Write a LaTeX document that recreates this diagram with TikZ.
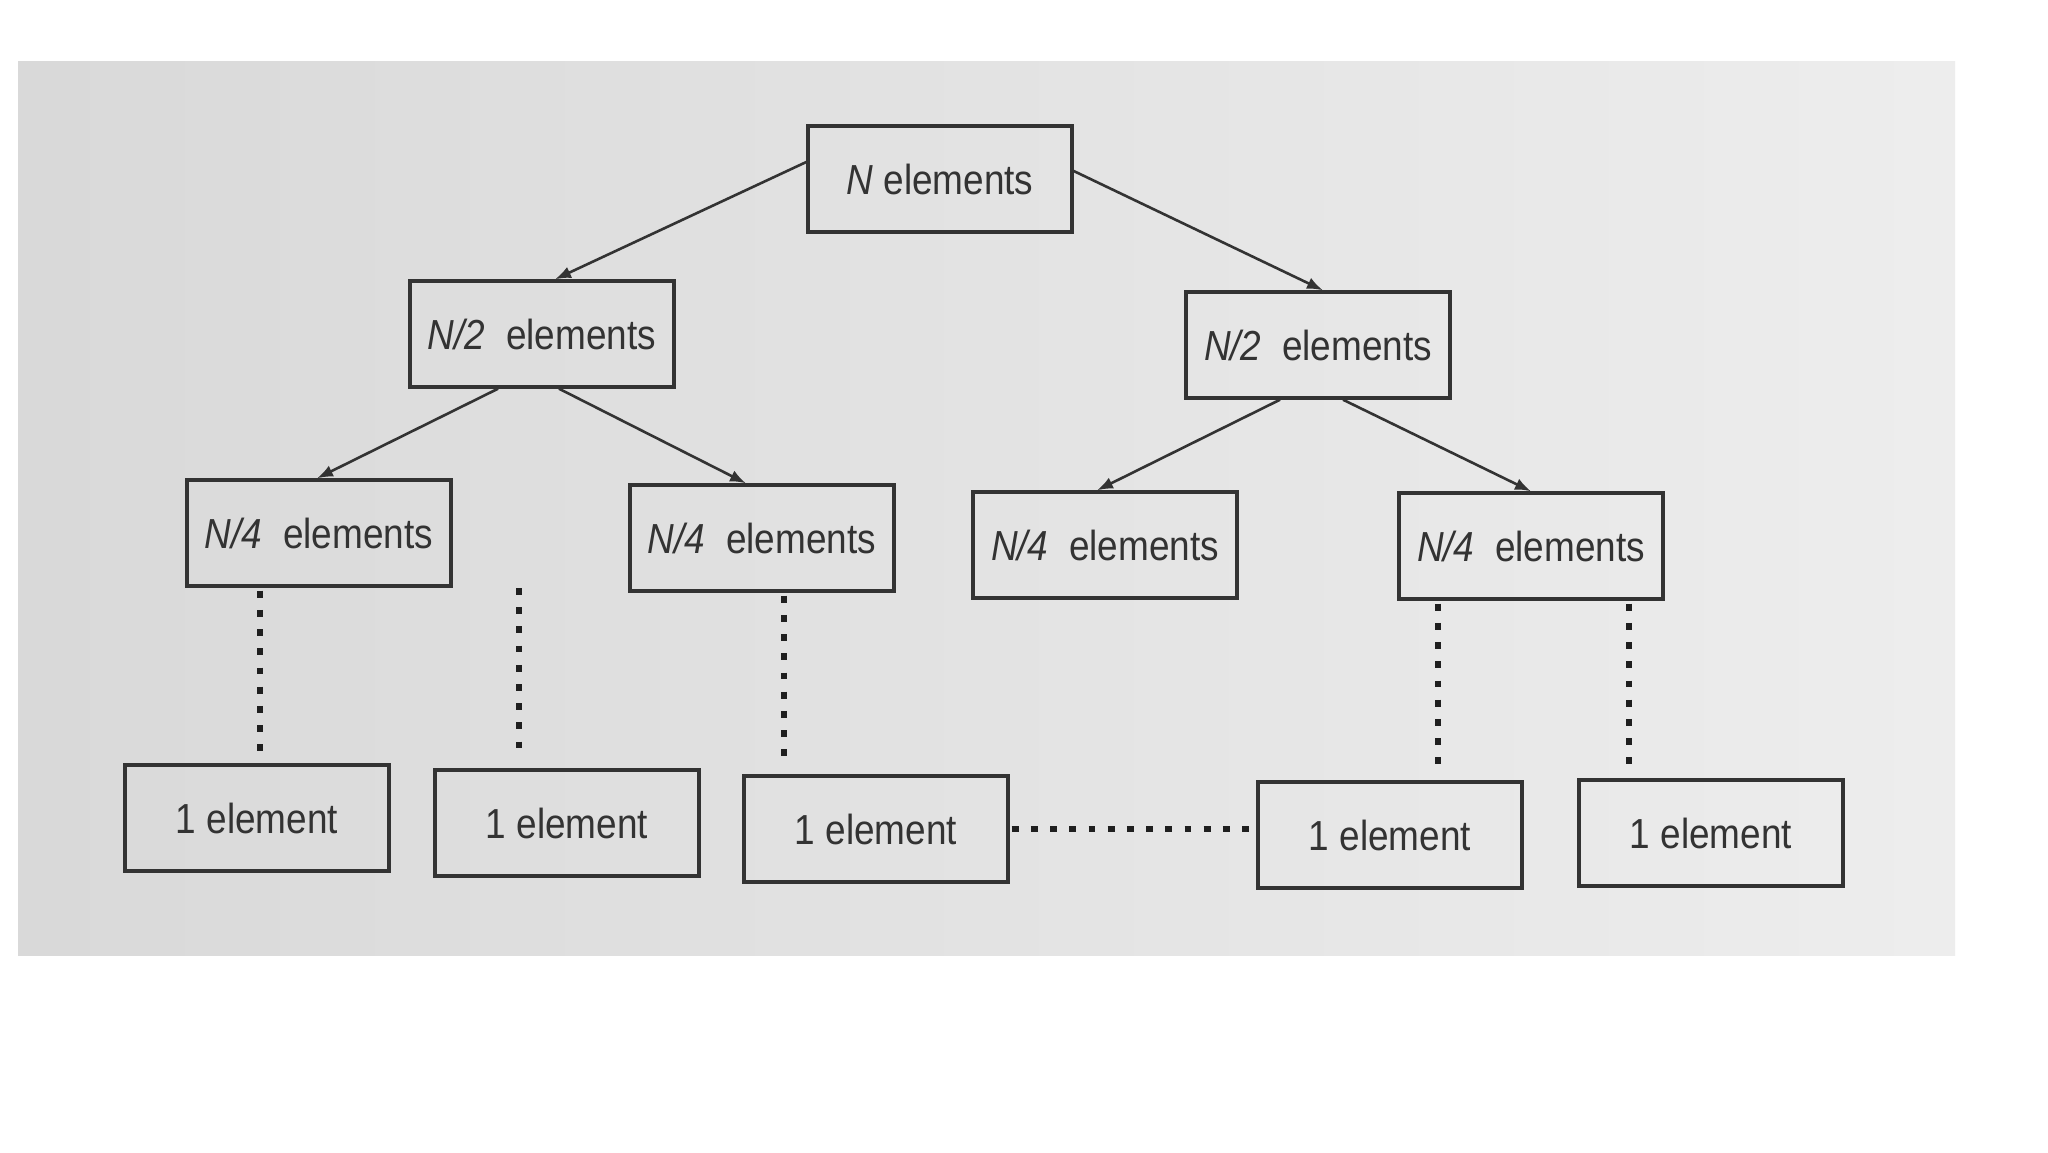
\documentclass[tikz,border=0pt]{standalone}
\usepackage{fontspec}
\newfontfamily\lab{Liberation Sans}[FakeStretch=0.88]
\usetikzlibrary{arrows.meta,calc}
\definecolor{ink}{HTML}{333333}
\tikzset{
  box/.style={draw=ink, line width=1.7pt, minimum width=132pt, minimum height=53pt,
    inner sep=0pt, font=\lab\fontsize{21pt}{24pt}\selectfont, text=ink},
  arr/.style={draw=ink, line width=1.3pt, -{Latex[length=8pt,width=6pt]}},
  dots/.style={draw=black!88, line width=3.4pt, dash pattern=on 3.4pt off 6.2pt}
}
\begin{document}
\begin{tikzpicture}[x=0.5pt,y=-0.5pt]
\useasboundingbox[fill=white] (0,0) rectangle (2048,1152);
\shade[left color=black!15, right color=black!7] (18,61) rectangle (1955,955);

\node[box] (top) at (940,179) {\textit{N} elements};
\node[box] (l2a) at (542,334) {\textit{N/2}\ \ elements};
\node[box] (l2b) at (1318,345) {\textit{N/2}\ \ elements};
\node[box] (l3a) at (319,533) {\textit{N/4}\ \ elements};
\node[box] (l3b) at (762,538) {\textit{N/4}\ \ elements};
\node[box] (l3c) at (1105,545) {\textit{N/4}\ \ elements};
\node[box] (l3d) at (1531,546) {\textit{N/4}\ \ elements};
\node[box] (l4a) at (257,818) {1 element};
\node[box] (l4b) at (567,823) {1 element};
\node[box] (l4c) at (876,829) {1 element};
\node[box] (l4d) at (1390,835) {1 element};
\node[box] (l4e) at (1711,833) {1 element};

\draw[arr] ($(top.west)+(0,-17)$) -- ($(l2a.north)+(13,0)$);
\draw[arr] ($(top.east)+(0,-8)$) -- ($(l2b.north)+(5,0)$);
\draw[arr] ($(l2a.south)+(-44,0)$) -- ($(l3a.north)+(-2,0)$);
\draw[arr] ($(l2a.south)+(17,0)$) -- ($(l3b.north)+(-16,0)$);
\draw[arr] ($(l2b.south)+(-38,0)$) -- ($(l3c.north)+(-8,0)$);
\draw[arr] ($(l2b.south)+(25,0)$) -- ($(l3d.north)+(0,0)$);

\coordinate (d2top) at (519,588);
\draw[dots] ($(l3a.south)+(-59,3)$) -- ($(l4a.north)+(3,-10)$);
\draw[dots] (d2top) -- ($(l4b.north)+(-48,-12)$);
\draw[dots] ($(l3b.south)+(22,3)$) -- ($(l4c.north)+(-92,-10)$);
\draw[dots] ($(l3d.south)+(-93,3)$) -- ($(l4d.north)+(48,-12)$);
\draw[dots] ($(l3d.south)+(98,3)$) -- ($(l4e.north)+(-82,-12)$);
\draw[dots] ($(l4c.east)+(2,0)$) -- ($(l4c.east -| l4d.west)+(-4,0)$);
\end{tikzpicture}
\end{document}
